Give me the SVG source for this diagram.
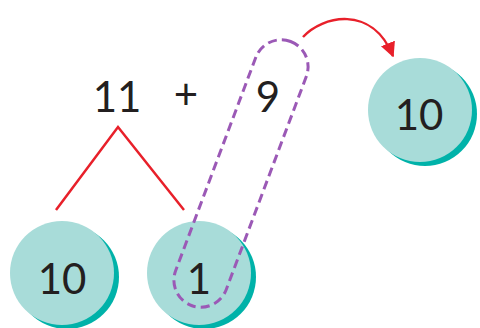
<svg xmlns="http://www.w3.org/2000/svg" width="480" height="328" viewBox="0 0 480 328">
<defs>
<style>
.sh{fill:#00b2a9}
.ci{fill:#a8dcd9}
.t{font-family:Lato,"Liberation Sans",sans-serif;font-size:42px;fill:#231f20;text-anchor:middle}
.red{stroke:#e8202a;stroke-width:2.5;fill:none}
</style>
<marker id="ah" viewBox="0 0 10 10" refX="9" refY="5" markerWidth="6" markerHeight="6" orient="auto" markerUnits="strokeWidth">
<path d="M0,0 L10,5 L0,10 Z" fill="#e8202a"/>
</marker>
</defs>
<g id="connectors">
<path class="red" d="M56,210 L118,127 L184,210"/>
<path class="red" d="M303,37 C322,16 372,4 393,56" marker-end="url(#ah)"/>
</g>
<g id="expr">
<text class="t" x="117" y="112">11</text>
<text class="t" x="186" y="109" font-size="32">+</text>
<text class="t" x="268" y="112">9</text>
</g>
<g id="node-left">
<circle class="sh" cx="67" cy="277" r="52"/>
<circle class="ci" cx="62" cy="273" r="52"/>
<text class="t" x="62" y="294">10</text>
</g>
<g id="node-mid">
<circle class="sh" cx="204" cy="277" r="52"/>
<circle class="ci" cx="199" cy="273" r="52"/>
<text class="t" x="199" y="294">1</text>
</g>
<g id="node-right">
<circle class="sh" cx="425" cy="114" r="52"/>
<circle class="ci" cx="420" cy="110" r="52"/>
<text class="t" x="419" y="130">10</text>
</g>
<g id="capsule">
<rect x="214" y="32.5" width="54" height="282" rx="27" transform="rotate(20.6 241 173.5)" fill="none" stroke="#9b59b6" stroke-width="3" stroke-dasharray="9 5"/>
</g>
</svg>
